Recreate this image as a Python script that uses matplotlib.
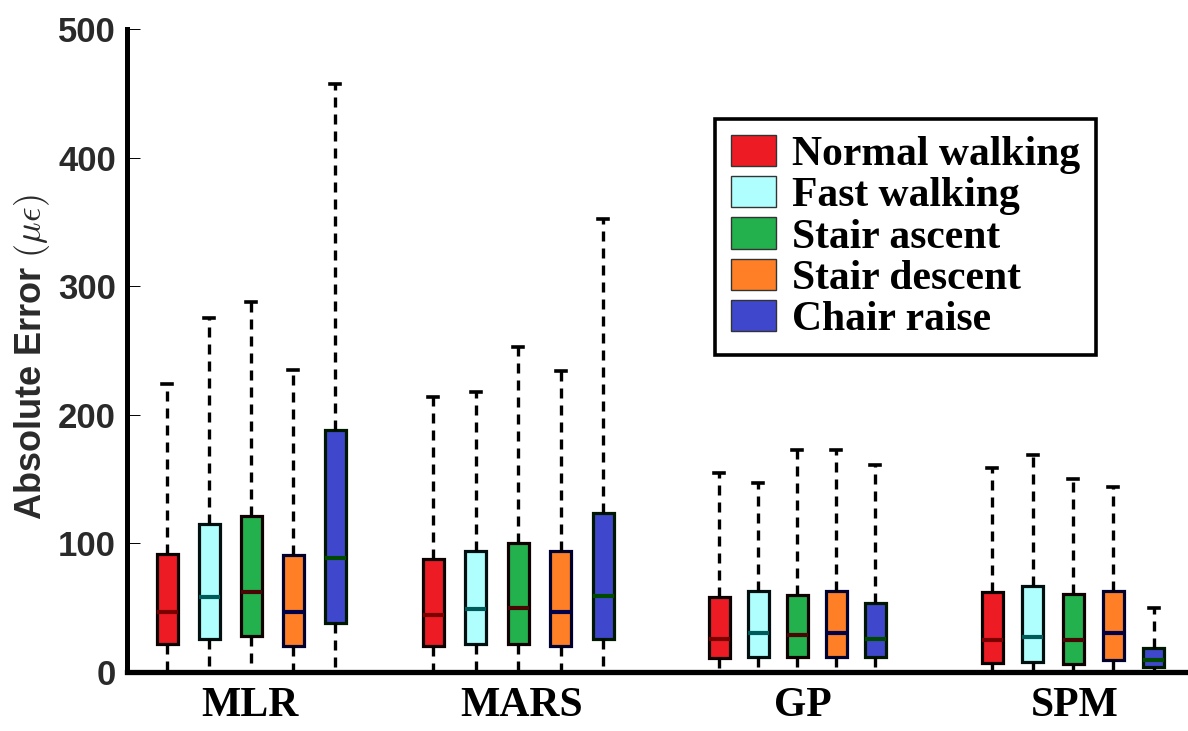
import matplotlib
matplotlib.use("Agg")
import matplotlib.pyplot as plt
from matplotlib.patches import Patch

# ---- data (absolute error, micro-strain) ----
models = ["MLR", "MARS", "GP", "SPM"]
activities = ["Normal walking", "Fast walking", "Stair ascent", "Stair descent", "Chair raise"]

# per model: [normal, fast, ascent, descent, chair]
whisker_high = {
    "MLR":  [224, 275, 288, 235, 457],
    "MARS": [214, 218, 253, 234, 352],
    "GP":   [155, 147, 173, 173, 161],
    "SPM":  [159, 169, 150, 144, 50],
}
q3 = {
    "MLR":  [92, 115, 121, 91, 188],
    "MARS": [88, 94, 100, 94, 124],
    "GP":   [58, 63, 60, 63, 54],
    "SPM":  [62, 67, 61, 63, 19],
}
median = {
    "MLR":  [47, 58, 62, 47, 89],
    "MARS": [44, 49, 50, 47, 59],
    "GP":   [26, 30, 29, 30, 26],
    "SPM":  [25, 27, 25, 30, 9],
}
q1 = {
    "MLR":  [22, 26, 28, 20, 38],
    "MARS": [20, 22, 22, 20, 26],
    "GP":   [11, 12, 12, 12, 12],
    "SPM":  [7, 8, 6, 9, 4],
}
whisker_low = {
    "MLR":  [0, 0, 0, 0, 0],
    "MARS": [0, 0, 0, 0, 0],
    "GP":   [0, 0, 0, 0, 0],
    "SPM":  [0, 0, 0, 0, 0],
}

y_ticks = [0, 100, 200, 300, 400, 500]

# ---- styling ----
fill_colors = ["#ED1C24", "#B0FFFF", "#22B14C", "#FF7F27", "#3F48CC"]
median_colors = ["#7a0000", "#005a5a", "#4a0505", "#00004a", "#004a00"]
edge_colors = ["#0a0000", "#001010", "#100000", "#000030", "#001800"]

# layout (x in pixel-like units of the axis)
group_centers = [251, 518, 797, 1073]
group_spacing = [42, 42.5, 39, 40.3]
label_centers = [250, 522, 803, 1075]

plt.rcParams["mathtext.fontset"] = "cm"

fig = plt.figure(figsize=(11.88, 7.31), dpi=100)
ax = fig.add_axes([127 / 1188, 59 / 731, (1188 - 127) / 1188, (672 - 29) / 731])

dash = (0, (3.0, 2.1))
for gi, m in enumerate(models):
    for ai in range(len(activities)):
        pos = group_centers[gi] + (ai - 2) * group_spacing[gi]
        stats = [{
            "med": median[m][ai], "q1": q1[m][ai], "q3": q3[m][ai],
            "whislo": whisker_low[m][ai], "whishi": whisker_high[m][ai],
            "fliers": [],
        }]
        ax.bxp(stats, positions=[pos], widths=21, capwidths=10,
               patch_artist=True, showfliers=False, manage_ticks=False,
               boxprops=dict(facecolor=fill_colors[ai], edgecolor=edge_colors[ai], linewidth=2.3),
               medianprops=dict(color=median_colors[ai], linewidth=3.0, solid_capstyle="butt"),
               whiskerprops=dict(color="black", linewidth=2.4, linestyle=dash),
               capprops=dict(color="black", linewidth=2.6),
               zorder=3)

ax.set_xlim(127, 1188)
ax.set_ylim(0, 500)

# spines
for s in ["top", "right"]:
    ax.spines[s].set_visible(False)
ax.spines["left"].set_linewidth(3.6)
ax.spines["bottom"].set_linewidth(3.8)
ax.spines["left"].set_zorder(5)
ax.spines["bottom"].set_zorder(5)

# ticks
ax.set_yticks(y_ticks)
ax.set_yticklabels([str(v) for v in y_ticks])
ax.tick_params(axis="y", direction="in", length=9, width=0.7, pad=8,
               labelcolor="#2a2a2a", labelsize=25)
for lab in ax.get_yticklabels():
    lab.set_fontfamily("Liberation Sans")
    lab.set_fontweight("bold")

ax.set_xticks(label_centers)
ax.set_xticklabels(models, fontfamily="Liberation Serif", fontweight="bold", fontsize=30)
ax.tick_params(axis="x", length=0, pad=11, labelcolor="black")

ax.set_ylabel(r"Absolute Error $(\mu\epsilon)$", fontfamily="Liberation Sans",
              fontweight="bold", fontsize=26, color="#2a2a2a")
ax.yaxis.set_label_coords(-0.071, 0.49)

# legend
handles = [Patch(facecolor=c, edgecolor="#333333", linewidth=1.0) for c in fill_colors]
leg = fig.legend(handles, activities, loc="upper left",
                 bbox_to_anchor=(715 / 1188, 1 - 119 / 731), bbox_transform=fig.transFigure,
                 borderaxespad=0, fancybox=False, frameon=True, framealpha=1,
                 edgecolor="black", handlelength=1.08, handleheight=0.77,
                 handletextpad=0.4, labelspacing=0.055, borderpad=0.38,
                 prop=dict(family="Liberation Serif", weight="bold", size=30))
leg.get_frame().set_linewidth(2.6)

fig.savefig("out.png", dpi=100, facecolor="white")
